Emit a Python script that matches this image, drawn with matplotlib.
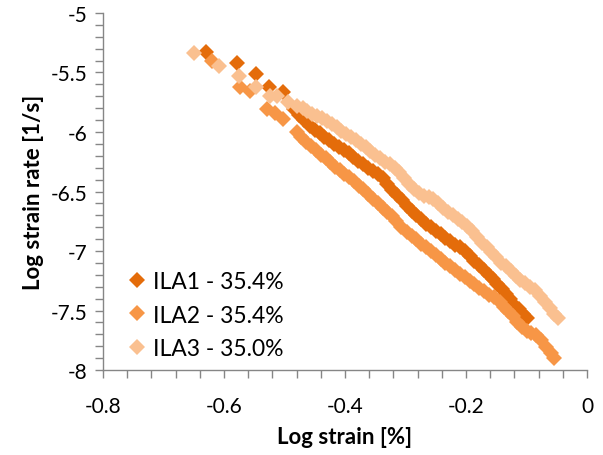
import matplotlib
matplotlib.use("Agg")
import matplotlib.pyplot as plt
from matplotlib.ticker import MultipleLocator

# values
ila1_x = [-0.629, -0.579, -0.547, -0.525, -0.502, -0.484, -0.476, -0.468,
          -0.458, -0.450, -0.442, -0.434, -0.426, -0.418, -0.410, -0.402,
          -0.394, -0.386, -0.378, -0.370, -0.362, -0.354, -0.346, -0.338,
          -0.330, -0.322, -0.314, -0.306, -0.298, -0.290, -0.282, -0.274,
          -0.266, -0.258, -0.250, -0.242, -0.234, -0.226, -0.218, -0.210,
          -0.202, -0.194, -0.186, -0.178, -0.170, -0.162, -0.155, -0.148,
          -0.141, -0.134, -0.127, -0.120, -0.113, -0.106, -0.100]
ila1_y = [-5.325, -5.423, -5.513, -5.624, -5.666, -5.807, -5.86, -5.90,
          -5.947, -5.98, -6.01, -6.04, -6.07, -6.10, -6.13, -6.155,
          -6.18, -6.21, -6.24, -6.27, -6.30, -6.33, -6.35, -6.39,
          -6.44, -6.49, -6.53, -6.57, -6.62, -6.66, -6.70, -6.73,
          -6.77, -6.80, -6.83, -6.86, -6.89, -6.92, -6.95, -6.97,
          -7.00, -7.04, -7.08, -7.12, -7.16, -7.20, -7.235, -7.28,
          -7.32, -7.36, -7.40, -7.45, -7.49, -7.53, -7.565]

ila2_x = [-0.620, -0.574, -0.557, -0.529, -0.515, -0.502, -0.480, -0.472,
          -0.464, -0.456, -0.448, -0.440, -0.432, -0.425, -0.417, -0.409,
          -0.401, -0.393, -0.385, -0.377, -0.370, -0.362, -0.354, -0.346,
          -0.338, -0.331, -0.323, -0.315, -0.307, -0.298, -0.290, -0.282,
          -0.274, -0.266, -0.258, -0.250, -0.242, -0.234, -0.226, -0.218,
          -0.210, -0.202, -0.194, -0.186, -0.178, -0.170, -0.162, -0.154,
          -0.144, -0.137, -0.130, -0.122, -0.115, -0.108, -0.100, -0.092,
          -0.084, -0.076, -0.068, -0.060, -0.054]
ila2_y = [-5.401, -5.624, -5.653, -5.807, -5.84, -5.891, -6.003, -6.04,
          -6.08, -6.12, -6.15, -6.19, -6.22, -6.255, -6.29, -6.32,
          -6.35, -6.38, -6.41, -6.45, -6.479, -6.52, -6.56, -6.60,
          -6.64, -6.672, -6.71, -6.75, -6.80, -6.843, -6.87, -6.90,
          -6.94, -6.97, -7.00, -7.03, -7.07, -7.10, -7.13, -7.16,
          -7.19, -7.22, -7.25, -7.28, -7.31, -7.34, -7.37, -7.39,
          -7.43, -7.47, -7.50, -7.546, -7.60, -7.64, -7.67, -7.69,
          -7.71, -7.75, -7.81, -7.86, -7.90]

ila3_x = [-0.650, -0.608, -0.576, -0.547, -0.524, -0.513, -0.494, -0.480,
          -0.470, -0.462, -0.454, -0.446, -0.438, -0.430, -0.422, -0.414,
          -0.406, -0.398, -0.390, -0.382, -0.374, -0.366, -0.358, -0.350,
          -0.342, -0.334, -0.326, -0.318, -0.310, -0.302, -0.294, -0.286,
          -0.278, -0.270, -0.262, -0.254, -0.246, -0.238, -0.230, -0.222,
          -0.214, -0.206, -0.198, -0.190, -0.182, -0.174, -0.166, -0.158,
          -0.150, -0.142, -0.134, -0.126, -0.118, -0.110, -0.102, -0.094,
          -0.086, -0.078, -0.070, -0.062, -0.054, -0.048]
ila3_y = [-5.336, -5.448, -5.527, -5.624, -5.695, -5.695, -5.750, -5.779,
          -5.80, -5.82, -5.845, -5.865, -5.885, -5.905, -5.93, -5.96,
          -5.99, -6.02, -6.045, -6.07, -6.10, -6.13, -6.16, -6.19,
          -6.22, -6.25, -6.27, -6.30, -6.34, -6.39, -6.44, -6.48,
          -6.51, -6.535, -6.55, -6.565, -6.60, -6.64, -6.67, -6.70,
          -6.73, -6.76, -6.79, -6.83, -6.88, -6.93, -6.97, -7.01,
          -7.05, -7.10, -7.13, -7.17, -7.21, -7.24, -7.27, -7.30,
          -7.33, -7.38, -7.43, -7.48, -7.53, -7.56]

labels = ["ILA1 - 35.4%", "ILA2 - 35.4%", "ILA3 - 35.0%"]
colors = ["#E46C0A", "#F79646", "#FAC090"]


def plot_chart():
    plt.rcParams["font.family"] = ["Lato", "DejaVu Sans"]
    fig = plt.figure(figsize=(6.03, 4.56), dpi=100)
    ax = fig.add_axes([0.1708, 0.1864, 0.8027, 0.7829])

    series = [(ila1_x, ila1_y), (ila2_x, ila2_y), (ila3_x, ila3_y)]
    for (xs, ys), label, color in zip(series, labels, colors):
        ax.plot(xs, ys, linestyle="none", marker="D", markersize=8.2,
                markeredgewidth=0, color=color, label=label)

    ax.set_xlim(-0.8, 0)
    ax.set_ylim(-8, -5)
    ax.xaxis.set_major_locator(MultipleLocator(0.2))
    ax.xaxis.set_minor_locator(MultipleLocator(0.04))
    ax.yaxis.set_major_locator(MultipleLocator(0.5))
    ax.yaxis.set_minor_locator(MultipleLocator(0.1))
    ax.set_xticklabels(["%g" % round(v, 1) for v in ax.get_xticks()])
    ax.set_yticklabels(["%g" % v for v in ax.get_yticks()])

    for side in ["top", "right"]:
        ax.spines[side].set_visible(False)
    for side in ["left", "bottom"]:
        ax.spines[side].set_color("#868686")
        ax.spines[side].set_linewidth(1.0)

    ax.tick_params(which="both", direction="out", length=6, width=1,
                   color="#868686", labelsize=15, labelcolor="black")
    ax.tick_params(axis="x", which="major", pad=13)
    ax.tick_params(axis="y", which="major", pad=5)

    ax.set_xlabel("Log strain [%]", fontsize=16, fontweight="bold", labelpad=7)
    ax.set_ylabel("Log strain rate [1/s]", fontsize=16, fontweight="bold",
                  labelpad=5)

    ax.legend(loc="lower left", bbox_to_anchor=(0.008, -0.008), frameon=False,
              fontsize=16.5, handletextpad=0.0, borderaxespad=0.2,
              labelspacing=0.55, markerscale=0.95, handlelength=1.4)

    fig.savefig("out.png", dpi=100)


def main():
    plot_chart()


if __name__ == "__main__":
    main()
